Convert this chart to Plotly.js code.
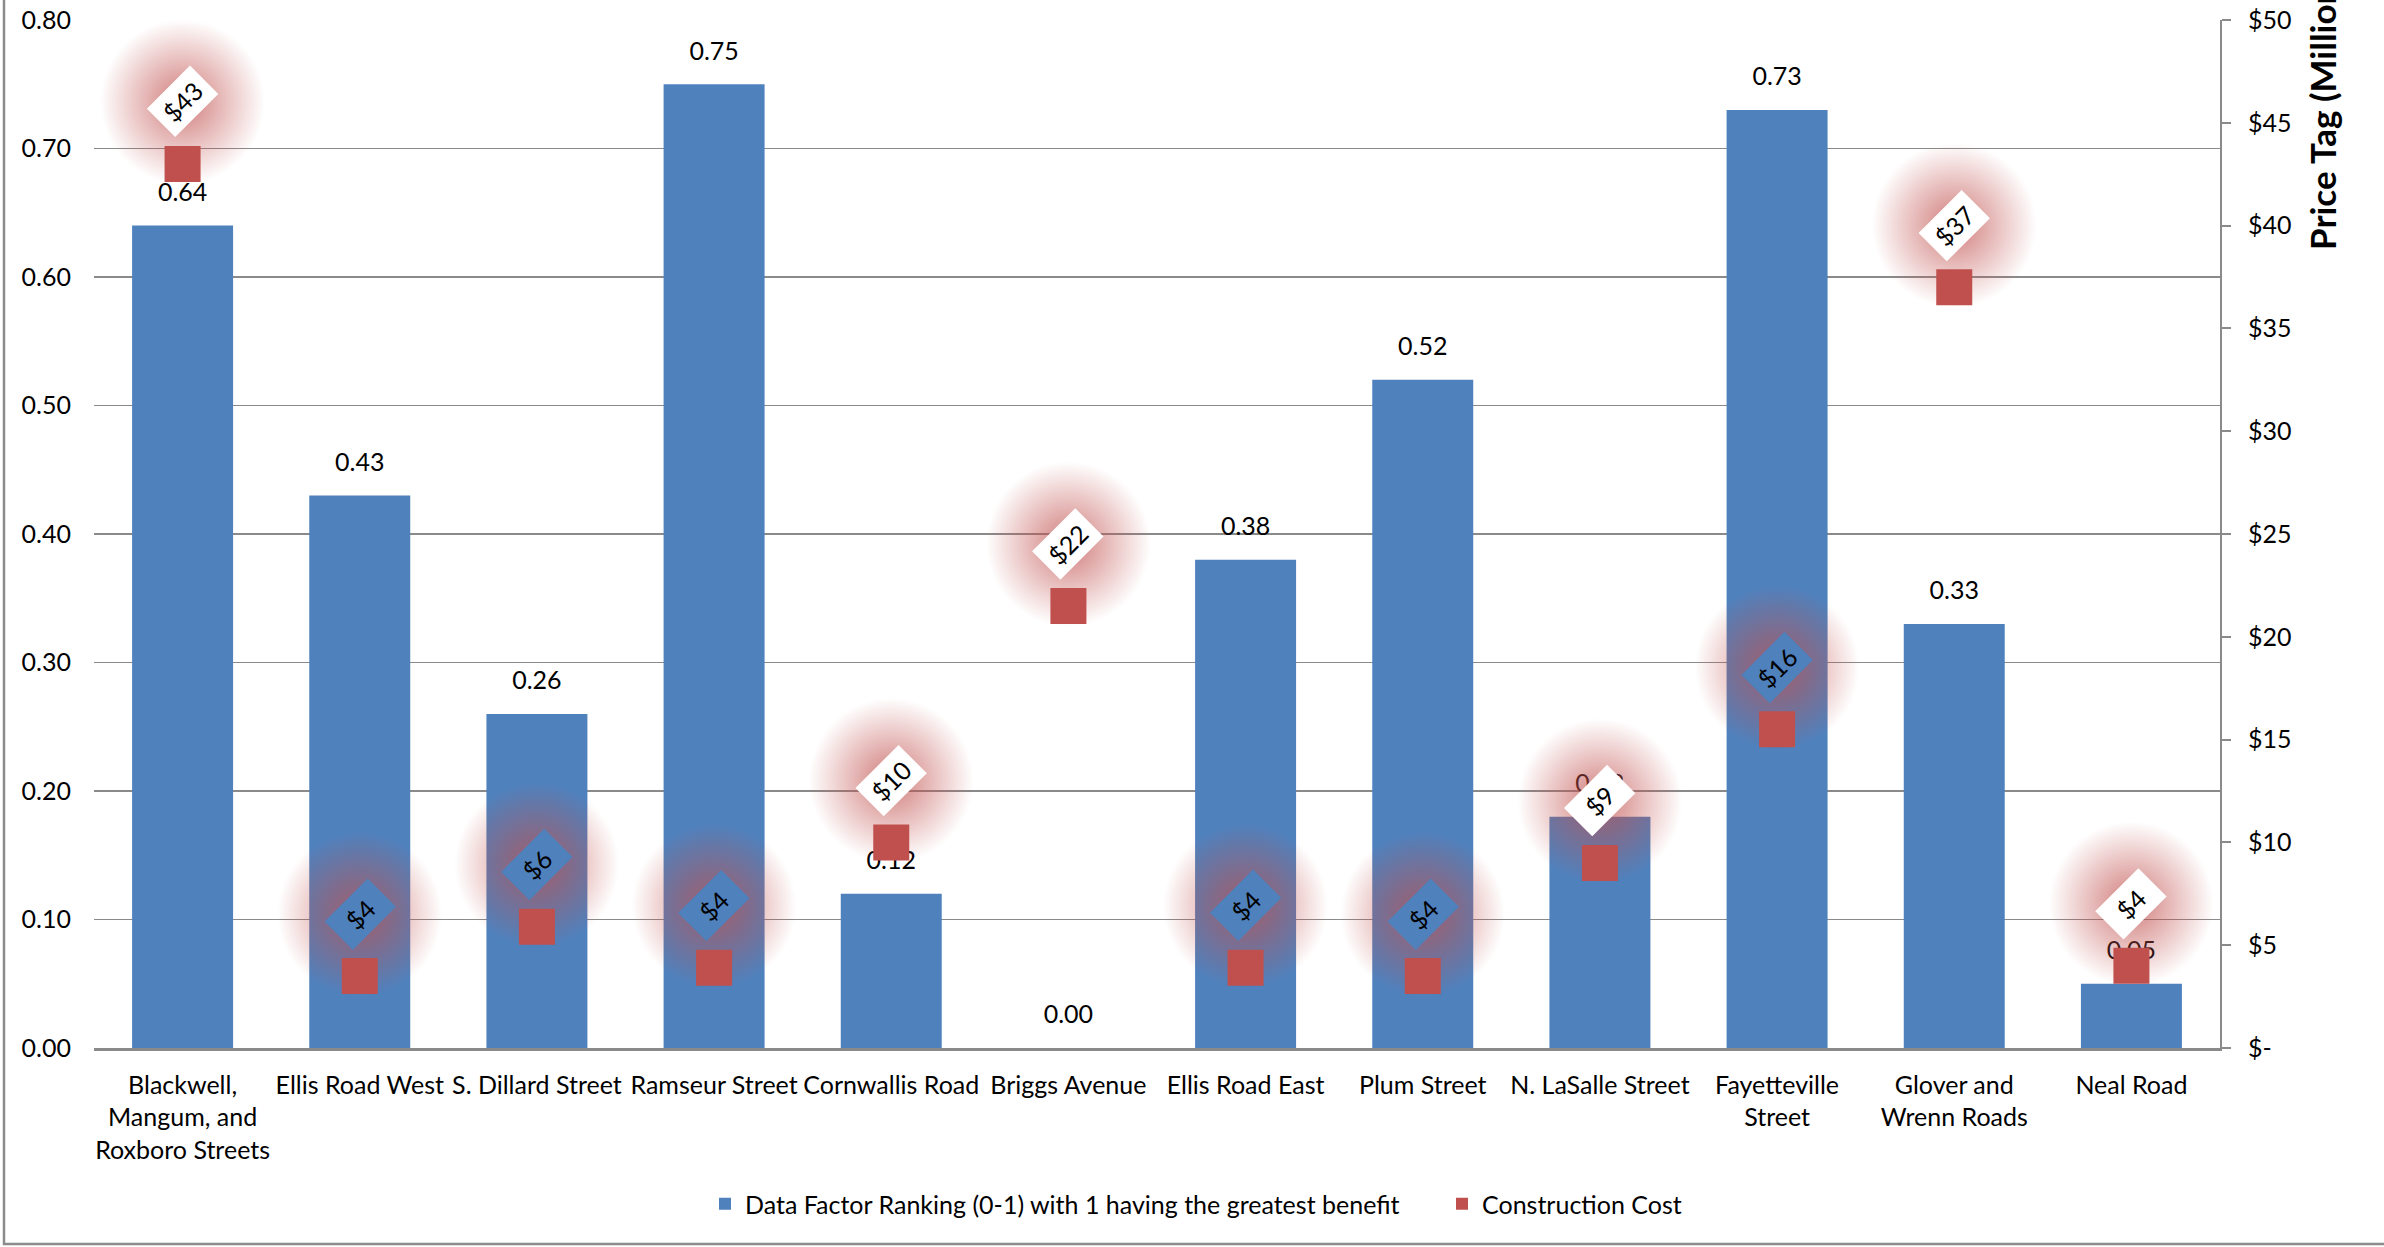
<!DOCTYPE html>
<html>
<head>
<meta charset="utf-8">
<script src="https://cdn.plot.ly/plotly-3.0.1.min.js"></script>
<style>html,body{margin:0;padding:0;background:#fff;}#chart{width:2384px;height:1247px;}</style>
</head>
<body>
<div id="chart"></div>
<script>
// ---- data ----
const categories = ['Blackwell, Mangum, and Roxboro Streets', 'Ellis Road West', 'S. Dillard Street', 'Ramseur Street', 'Cornwallis Road', 'Briggs Avenue', 'Ellis Road East', 'Plum Street', 'N. LaSalle Street', 'Fayetteville Street', 'Glover and Wrenn Roads', 'Neal Road'];
const categoryLabels = ['Blackwell,<br>Mangum, and<br>Roxboro Streets', 'Ellis Road West', 'S. Dillard Street', 'Ramseur Street', 'Cornwallis Road', 'Briggs Avenue', 'Ellis Road East', 'Plum Street', 'N. LaSalle Street', 'Fayetteville<br>Street', 'Glover and<br>Wrenn Roads', 'Neal Road'];
const ranking = [0.64, 0.43, 0.26, 0.75, 0.12, 0.00, 0.38, 0.52, 0.18, 0.73, 0.33, 0.05];
const costs = [43, 3.5, 5.9, 3.9, 10, 21.5, 3.9, 3.5, 9, 15.5, 37, 4];
const leftTicks = [0, 0.1, 0.2, 0.3, 0.4, 0.5, 0.6, 0.7, 0.8];
const rightTickVals = [0, 5, 10, 15, 20, 25, 30, 35, 40, 45, 50];
const rightTickText = ['$-', '$5', '$10', '$15', '$20', '$25', '$30', '$35', '$40', '$45', '$50'];
const seriesNames = ['Data Factor Ranking (0-1) with 1 having the greatest benefit', 'Construction Cost'];
const rightTitle = 'Price Tag (Millions)';

// ---- style ----
const FONT = 'Lato, "Open Sans", sans-serif';
const FS = 25;
const BLUE = '#4F81BD';
const RED = '#C0504D';
const GRID = '#8a8a8a';
const W = 2384, H = 1247;
const M = {l: 94, r: 164, t: 20, b: 199};
const plotW = W - M.l - M.r, plotH = H - M.t - M.b;
const labelShiftPx = 62;
const rankRange = [0, 0.8];
const costRange = [0, 50];
const shiftUnits = labelShiftPx * (costRange[1] - costRange[0]) / plotH;
const xRange = [-0.5, categories.length - 0.5];

// the label box is a "hole" in the glow: it shows whatever lies beneath (bar or background)
const labelBg = categories.map((c, i) => {
  const labelPx = (costs[i] - costRange[0]) / (costRange[1] - costRange[0]) * plotH + labelShiftPx;
  const barPx = (ranking[i] - rankRange[0]) / (rankRange[1] - rankRange[0]) * plotH;
  return labelPx < barPx - 20 ? BLUE : '#ffffff';
});

const traces = [
  {
    type: 'bar', name: seriesNames[0], x: categories, y: ranking,
    marker: {color: BLUE}, yaxis: 'y', hoverinfo: 'x+y'
  },
  {
    type: 'scatter', mode: 'markers+text', x: categories, y: ranking, yaxis: 'y',
    text: ranking.map(v => v.toFixed(2)), textposition: 'top center',
    textfont: {family: FONT, size: FS, color: '#000'},
    marker: {size: 28, color: 'rgba(0,0,0,0)'}, showlegend: false, cliponaxis: false, hoverinfo: 'skip'
  },
  {
    type: 'scatter', mode: 'markers', x: categories, y: costs, yaxis: 'y2',
    marker: {size: 165, color: 'rgba(192,80,77,0)', gradient: {type: 'radial', color: 'rgba(192,80,77,0.75)'}, line: {width: 0}},
    showlegend: false, cliponaxis: false, hoverinfo: 'skip'
  },
  {
    type: 'scatter', mode: 'markers', name: seriesNames[1], x: categories, y: costs, yaxis: 'y3',
    marker: {symbol: 'square', size: 36, color: RED, line: {width: 0}}, cliponaxis: false
  }
];

const annotations = categories.map((c, i) => ({
  x: c, y: costs[i], xref: 'x', yref: 'y3', yshift: labelShiftPx,
  text: '$' + costs[i].toFixed(0), showarrow: false, textangle: -45,
  bgcolor: labelBg[i], borderpad: 6, width: 48, height: 27, align: 'center',
  font: {family: FONT, size: FS, color: '#000'}
}));
annotations.push({
  xref: 'paper', yref: 'paper',
  x: (2322 - M.l) / plotW, y: (H - M.b - 252) / plotH,
  xanchor: 'center', yanchor: 'bottom', textangle: -90, showarrow: false,
  text: '<b>' + rightTitle + '</b>',
  font: {family: FONT, size: 35, color: '#000'}
});

const layout = {
  width: W, height: H, margin: M,
  paper_bgcolor: '#fff', plot_bgcolor: '#fff',
  font: {family: FONT, size: FS, color: '#000'},
  bargap: 0.43,
  showlegend: true,
  legend: {
    orientation: 'h', x: (705 - M.l) / plotW, xanchor: 'left', y: -156 / plotH, yanchor: 'middle',
    font: {family: FONT, size: FS, color: '#000'}, itemsizing: 'constant', traceorder: 'normal',
    itemwidth: 30, entrywidthmode: 'pixels', entrywidth: 692
  },
  xaxis: {
    type: 'category', range: xRange, tickmode: 'array', tickvals: categories, ticktext: categoryLabels,
    showline: true, linecolor: GRID, linewidth: 2.5, ticks: '', showgrid: false,
    tickfont: {family: FONT, size: FS, color: '#000'}, ticklabelstandoff: 13, zeroline: false
  },
  yaxis: {
    range: rankRange, tickmode: 'array', tickvals: leftTicks, tickformat: '.2f',
    showgrid: true, gridcolor: GRID, gridwidth: 1.5, showline: false, zeroline: false, ticks: '',
    tickfont: {family: FONT, size: FS, color: '#000'}, ticklabelstandoff: 22
  },
  yaxis2: {
    overlaying: 'y', range: [costRange[0] - shiftUnits, costRange[1] - shiftUnits], visible: false,
    showgrid: false, zeroline: false
  },
  yaxis3: {
    overlaying: 'y', side: 'right', range: costRange, tickmode: 'array',
    tickvals: rightTickVals, ticktext: rightTickText,
    showgrid: false, zeroline: false, showline: true, linecolor: GRID, linewidth: 2,
    ticks: 'outside', ticklen: 9, tickcolor: GRID, tickwidth: 2,
    tickfont: {family: FONT, size: FS, color: '#000'}, ticklabelstandoff: 12
  },
  annotations: annotations,
  shapes: [{
    type: 'rect', xref: 'paper', yref: 'paper',
    x0: (4 - M.l) / plotW, x1: 1.3, y0: (H - M.b - 1244) / plotH, y1: 1.3,
    line: {color: '#8c8c8c', width: 2.5}, layer: 'below'
  }]
};

Plotly.newPlot('chart', traces, layout, {displayModeBar: false, staticPlot: true});
</script>
</body>
</html>
